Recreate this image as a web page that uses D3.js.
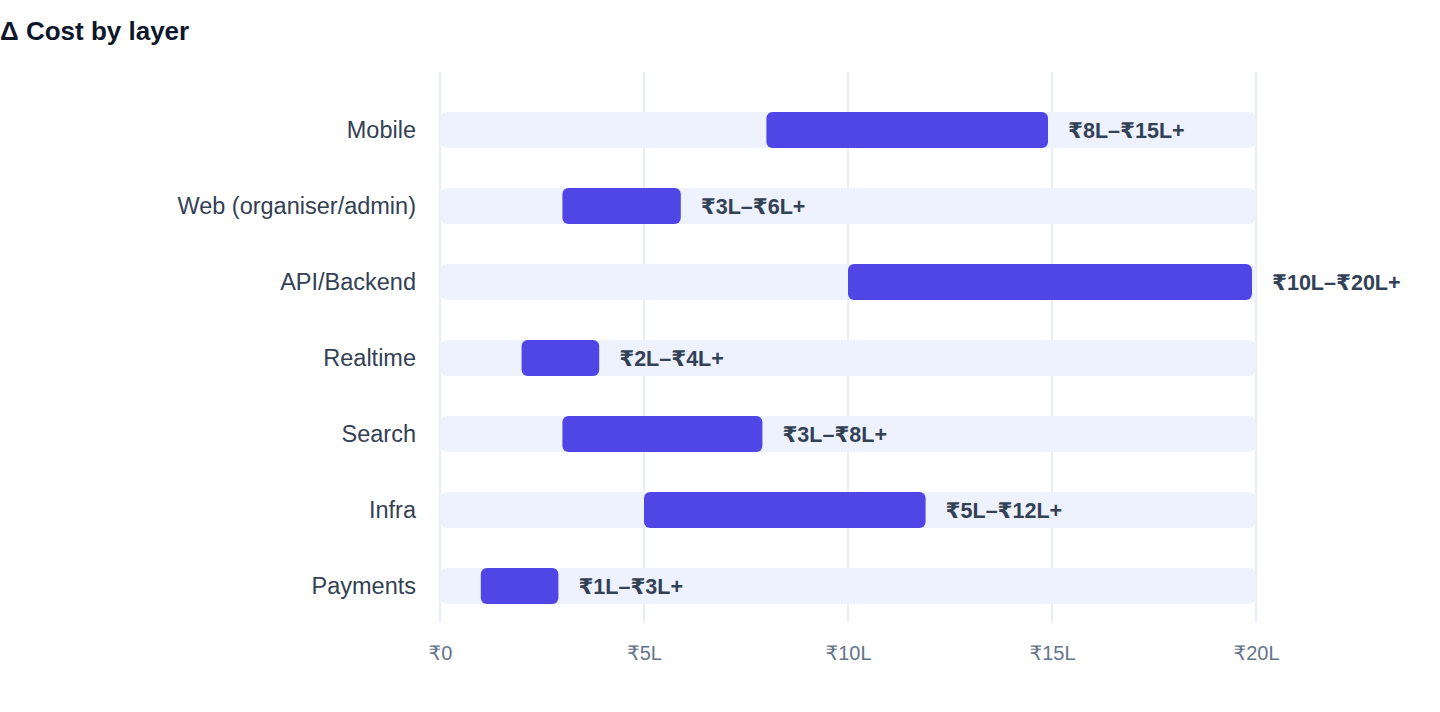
<!DOCTYPE html>
<html><head><meta charset="utf-8">
<script src="https://cdn.jsdelivr.net/npm/d3@7"></script>
<style>
html,body{margin:0;padding:0;background:#fff;}
svg{display:block;font-family:"Liberation Sans",Arial,Helvetica,"DejaVu Sans",sans-serif;}
</style></head>
<body><svg id="c" width="1440" height="712"></svg>
<script>
const categories = ["Mobile","Web (organiser/admin)","API/Backend","Realtime","Search","Infra","Payments"];
const lowValues  = [8,3,10,2,3,5,1];
const highValues = [15,6,20,4,8,12,3];
const rangeLabels = ["₹8L–₹15L+","₹3L–₹6L+","₹10L–₹20L+","₹2L–₹4L+","₹3L–₹8L+","₹5L–₹12L+","₹1L–₹3L+"];
const tickValues = [0,5,10,15,20];
const tickLabels = ["₹0","₹5L","₹10L","₹15L","₹20L"];
const axisMax = 20;
const title = "Δ Cost by layer";

const FONT = '"Liberation Sans",Arial,Helvetica,"DejaVu Sans",sans-serif';
const svg = d3.select("#c");
const x = d3.scaleLinear().domain([0, axisMax]).range([440, 1256]);
const y = d3.scaleBand().domain(categories).range([92, 624]).paddingInner(0.526).paddingOuter(0.263);
const gridTop = 72, gridBottom = 623;

svg.append("text").attr("x",0).attr("y",40).attr("font-size",26).attr("font-weight",700)
  .attr("fill","#0f172a").text(title);

svg.append("g").selectAll("line").data(tickValues).join("line")
  .attr("x1",d=>x(d)).attr("x2",d=>x(d)).attr("y1",gridTop).attr("y2",gridBottom)
  .attr("stroke","#e2e8f0").attr("stroke-width",1.5);

const rows = categories.map((c,i)=>({c, lo:lowValues[i], hi:highValues[i], label:rangeLabels[i]}));

svg.append("g").selectAll("rect").data(rows).join("rect")
  .attr("x",x(0)).attr("width",x(axisMax)-x(0))
  .attr("y",d=>y(d.c)).attr("height",y.bandwidth())
  .attr("rx",7).attr("fill","#eef2ff");

svg.append("g").selectAll("rect").data(rows).join("rect")
  .attr("x",d=>x(d.lo)).attr("width",d=>x(d.hi)-x(d.lo)-4)
  .attr("y",d=>y(d.c)).attr("height",y.bandwidth())
  .attr("rx",6).attr("fill","#4f46e5");

svg.append("g").selectAll("text").data(rows).join("text")
  .attr("x",d=>x(d.hi)+16).attr("y",d=>y(d.c)+y.bandwidth()/2)
  .attr("dy","0.35em").attr("font-size",21.5).attr("font-weight",700).attr("fill","#334155")
  .text(d=>d.label);

svg.append("g").selectAll("text").data(categories).join("text")
  .attr("x",416).attr("y",d=>y(d)+y.bandwidth()/2).attr("dy","0.35em")
  .attr("text-anchor","end").attr("font-size",23.5).attr("fill","#334155").text(d=>d);

const axis = d3.axisBottom(x).tickValues(tickValues).tickFormat((d,i)=>tickLabels[i]).tickSize(0).tickPadding(0);
const ag = svg.append("g").attr("transform","translate(0,653)").call(axis);
ag.select(".domain").remove();
ag.selectAll("text").attr("font-size",20).attr("fill","#64748b").attr("dy","0.35em").attr("font-family",FONT);
</script></body></html>
